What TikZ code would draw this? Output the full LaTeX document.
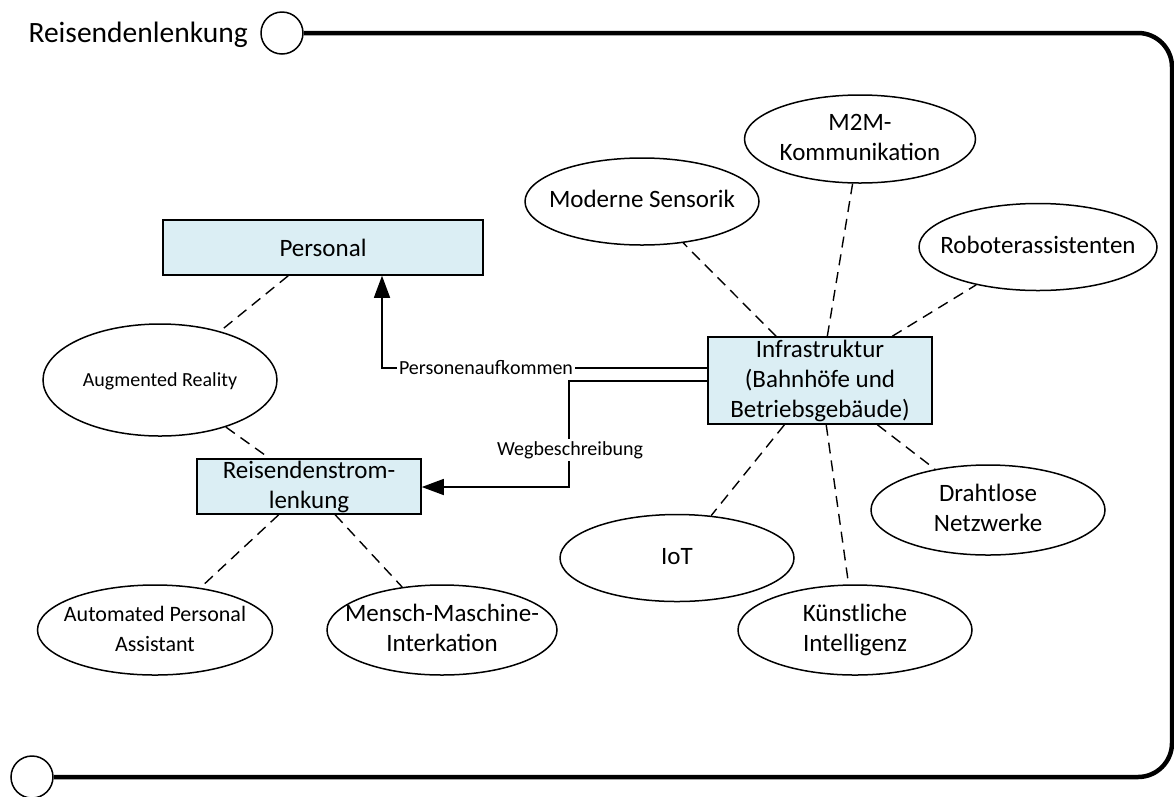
\documentclass[tikz,border=0pt]{standalone}
\usepackage{fontspec}
\setmainfont{Carlito}
\usetikzlibrary{shapes.geometric,arrows.meta}
\definecolor{boxblue}{RGB}{219,238,244}
% zero-width text block, so that an ellipse keeps its given size
\newcommand{\ellipsetext}[1]{\makebox[0pt]{\begin{tabular}{@{}c@{}}#1\end{tabular}}}
\tikzset{
  fs/.style={font=\fontsize{#1}{30}\selectfont},
  procbox/.style={draw=black, line width=1.5pt, fill=boxblue, inner sep=0pt,
                  align=center, fs=25},
  topic/.style={ellipse, draw=black, line width=1.5pt, inner sep=0pt, fs=25},
  link/.style={line width=1.4pt, dash pattern=on 11pt off 7pt},
  flow/.style={line width=1.4pt, -{Triangle[length=22pt,width=16pt]}},
  flowlabel/.style={fill=white, inner sep=2pt, fs=20},
  frameline/.style={line width=4.5pt},
}
\begin{document}
\begin{tikzpicture}[x=1pt,y=-1pt]
\useasboundingbox (0,0) rectangle (1174,796);

% swimlane frame
\node[anchor=base west, fs=29.5] (title) at (25,42) {Reisendenlenkung};
\node[circle, draw, line width=1.5pt, minimum size=42pt, inner sep=0pt] (topcirc) at (282,33) {};
\node[circle, draw, line width=1.5pt, minimum size=42pt, inner sep=0pt] (botcirc) at (32,777) {};
\draw[frameline, rounded corners=34pt] (topcirc.east) -- (1172,33) -- (1172,777) -- (botcirc.east);

% process boxes
\node[procbox, minimum width=320pt, minimum height=55pt] (personal) at (323,247.5) {Personal};
\node[procbox, minimum width=224pt, minimum height=55pt] (rsl) at (309,486.5) {Reisendenstrom-\\lenkung};
\node[procbox, minimum width=224pt, minimum height=87pt] (infra) at (820,380.5) {Infrastruktur\\(Bahnhöfe und\\Betriebsgebäude)};

% technology ellipses
\node[topic, minimum width=234pt, minimum height=112pt, fs=20] (augreal) at (160,380) {\ellipsetext{Augmented Reality}};
\node[topic, minimum width=235pt, minimum height=90pt, fs=22] (apa) at (155,630) {\ellipsetext{Automated Personal\\Assistant}};
\node[topic, minimum width=230pt, minimum height=90pt] (mmi) at (442,630) {\ellipsetext{Mensch-Maschine-\\Interkation}};
\node[topic, minimum width=234pt, minimum height=87pt] (sensor) at (642,201.5) {\ellipsetext{Moderne Sensorik}};
\node[topic, minimum width=231pt, minimum height=88pt] (m2m) at (860,139) {\ellipsetext{M2M-\\Kommunikation}};
\node[topic, minimum width=238pt, minimum height=87pt] (robo) at (1038,247) {\ellipsetext{Roboterassistenten}};
\node[topic, minimum width=234pt, minimum height=90pt] (wlan) at (988,510) {\ellipsetext{Drahtlose\\Netzwerke}};
\node[topic, minimum width=234pt, minimum height=87pt] (iot) at (677,558) {\ellipsetext{IoT}};
\node[topic, minimum width=234pt, minimum height=90pt] (ki) at (855,630) {\ellipsetext{Künstliche\\Intelligenz}};

% associations
\draw[link] (personal) -- (augreal);
\draw[link] (augreal) -- (rsl);
\draw[link] (rsl) -- (apa);
\draw[link] (rsl) -- (mmi);
\draw[link] (infra) -- (sensor);
\draw[link] (infra) -- (m2m);
\draw[link] (infra) -- (robo);
\draw[link] (infra) -- (iot);
\draw[link] (infra) -- (ki);
\draw[link] (infra) -- (wlan);

% information flows
\draw[flow] (infra.west |- 0,368) -- (382,368) -- (personal.south -| 382,0);
\node[flowlabel] (lblp) at (486,368) {Personenaufkommen};
\draw[flow] (infra.west |- 0,381) -- (569,381) -- (569,487) -- (rsl.east |- 0,487);
\node[flowlabel] (lblw) at (570,450) {Wegbeschreibung};
\end{tikzpicture}
\end{document}
